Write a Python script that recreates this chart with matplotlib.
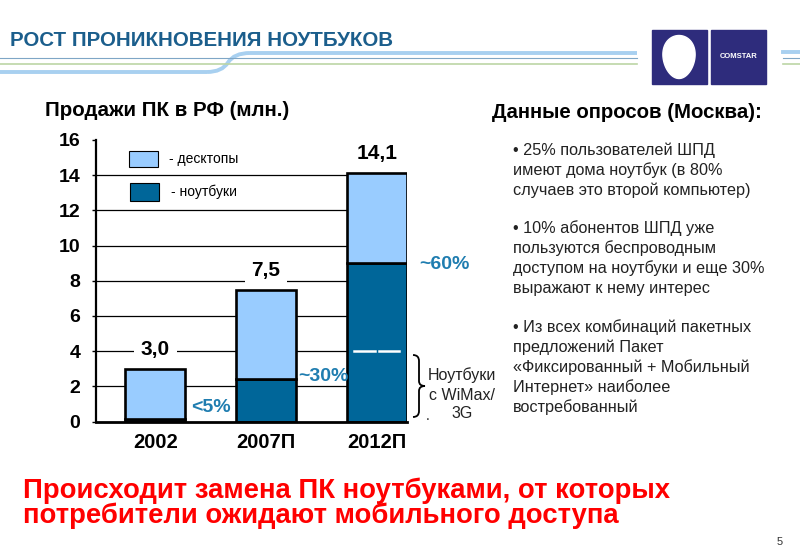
import numpy as np
import matplotlib.pyplot as plt
from matplotlib.patches import Rectangle, PathPatch
from matplotlib.path import Path

plt.rcParams['font.family'] = ['Liberation Sans', 'DejaVu Sans']

# data
years = ['2002', '2007П', '2012П']
totals = [3.0, 7.5, 14.1]
notebooks = [0.15, 2.4, 9.0]
desktops = [t - n for t, n in zip(totals, notebooks)]
pct_labels = ['<5%', '~30%', '~60%']
yticks = list(range(0, 17, 2))

light = '#99CCFF'
dark = '#006699'
pct_color = '#1F7DB0'
W, H = 800, 553

fig = plt.figure(figsize=(8, 5.53), dpi=100)

# overlay in pixel coordinates for slide decorations
ov = fig.add_axes([0, 0, 1, 1])
ov.set_xlim(0, W)
ov.set_ylim(H, 0)
ov.axis('off')

# header stripes
stripe = '#A8D0F0'
ov.plot([0, 207], [72, 72], color=stripe, lw=2.8, solid_capstyle='butt')
bez = Path([(207, 72), (222, 72), (228, 62.5), (234, 53), (250, 53)],
           [Path.MOVETO, Path.CURVE3, Path.CURVE3, Path.CURVE3, Path.CURVE3])
ov.add_patch(PathPatch(bez, fc='none', ec=stripe, lw=2.8))
ov.plot([250, 637], [53, 53], color=stripe, lw=2.8, solid_capstyle='butt')
ov.plot([0, 637], [58, 58], color='#7FA6C6', lw=0.8)
ov.plot([0, 637], [63.5, 63.5], color='#BCD5A6', lw=1.2)
ov.plot([783, 800], [52, 52], color=stripe, lw=2.8)
ov.plot([783, 800], [58, 58], color='#7FA6C6', lw=0.8)
ov.plot([783, 800], [63.5, 63.5], color='#BCD5A6', lw=1.2)

# logo
navy = '#2E2C7C'
ov.add_patch(Rectangle((652, 30), 55, 54, color=navy))
ov.add_patch(Rectangle((711, 30), 55, 54, color=navy))
t = np.linspace(0, 2 * np.pi, 100)
ex = 679 + 16 * np.cos(t) * (1 - 0.12 * np.sin(t))
ey = 57 + 21.5 * np.sin(t)
ov.fill(ex, ey, color='white')
ov.text(738.5, 57, 'COMSTAR', color='white', fontsize=5.5, fontweight='bold',
        ha='center', va='center')

# title
ov.text(10, 40, 'РОСТ ПРОНИКНОВЕНИЯ НОУТБУКОВ', color='#1B5E8C', fontsize=14.8,
        fontweight='bold', ha='left', va='center')

# brace and annotation for WiMax notebooks
brace = Path([(413, 355), (419, 355), (419, 361), (419, 381), (419, 386), (425, 386),
              (419, 386), (419, 391), (419, 411), (419, 417), (413, 417)],
             [Path.MOVETO, Path.CURVE3, Path.CURVE3, Path.LINETO, Path.CURVE3, Path.CURVE3,
              Path.CURVE3, Path.CURVE3, Path.LINETO, Path.CURVE3, Path.CURVE3])
ov.add_patch(PathPatch(brace, fc='none', ec='black', lw=1.3))
for txt, yy in zip(['Ноутбуки', 'с WiMax/', '3G'], [375, 395, 413]):
    ov.text(462, yy, txt, fontsize=11.5, color='#222222', ha='center', va='center')
ov.text(428, 416, '.', fontsize=10, color='#222222', ha='center', va='center')

# chart titles
ov.text(45, 110, 'Продажи ПК в РФ (млн.)', fontsize=14.8, fontweight='bold',
        ha='left', va='center')
ov.text(492, 112, 'Данные опросов (Москва):', fontsize=14.7, fontweight='bold',
        ha='left', va='center')

# survey bullets
bullets = [
    ['• 25% пользователей ШПД', 'имеют дома ноутбук (в 80%', 'случаев это второй компьютер)'],
    ['• 10% абонентов ШПД уже', 'пользуются беспроводным',
     'доступом на ноутбуки и еще 30%', 'выражают к нему интерес'],
    ['• Из всех комбинаций пакетных', 'предложений Пакет',
     '«Фиксированный + Мобильный', 'Интернет» наиболее', 'востребованный'],
]
starts = [150, 228, 327]
for para, y0 in zip(bullets, starts):
    for k, line in enumerate(para):
        ov.text(513, y0 + 20 * k, line, fontsize=11.7, color='#222222',
                ha='left', va='center')

# conclusion
ov.text(23, 498, 'Происходит замена ПК ноутбуками, от которых', color='#FF0000',
        fontsize=19.8, fontweight='bold', ha='left', va='baseline')
ov.text(23, 523, 'потребители ожидают мобильного доступа', color='#FF0000',
        fontsize=19.8, fontweight='bold', ha='left', va='baseline')
ov.text(780, 542, '5', fontsize=8, color='#333333', ha='center', va='center')

# bar chart
ax = fig.add_axes([95.7 / W, 1 - 421.5 / H, (407 - 95.7) / W, (421.5 - 140) / H])
ax.patch.set_visible(False)
x = np.arange(len(years))
bw = 0.54
ax.bar(x, notebooks, bw, color=dark, edgecolor='black', linewidth=1.9, zorder=3)
ax.bar(x, desktops, bw, bottom=notebooks, color=light, edgecolor='black',
       linewidth=1.9, zorder=3)

ax.set_xlim(-0.538, 2.273)
ax.set_ylim(0, 16)
ax.set_yticks(yticks)
ax.set_yticklabels([str(v) for v in yticks], fontsize=14, fontweight='bold')
ax.set_xticks(x)
ax.set_xticklabels(years, fontsize=14.5, fontweight='bold')
ax.tick_params(axis='x', length=0, pad=8)
ax.tick_params(axis='y', direction='out', length=3, width=1, pad=8)
for v in yticks[1:-1]:
    ax.axhline(v, color='black', lw=0.9, zorder=1)
for s in ['top', 'right']:
    ax.spines[s].set_visible(False)
ax.spines['left'].set_linewidth(1.6)
ax.spines['bottom'].set_linewidth(2)
ax.spines['bottom'].set_zorder(4)

# totals
for i, tv in enumerate(totals):
    ax.annotate(f'{tv:.1f}'.replace('.', ','), (x[i], tv), xytext=(0, 14),
                textcoords='offset points', ha='center', va='center',
                fontsize=15, fontweight='bold', zorder=5,
                bbox=dict(fc='white', ec='none', pad=5))

# notebook share labels
pct_pos = [(0.503, 0.82), (1.515, 2.53), (2.607, 8.9)]
for lab, (px, py) in zip(pct_labels, pct_pos):
    ax.text(px, py, lab, color=pct_color, fontsize=14, fontweight='bold',
            ha='center', va='center', zorder=5, clip_on=False)

# white dashes marking the WiMax/3G part
ax.plot([1.79, 1.98], [4, 4], color='white', lw=1.8, zorder=4)
ax.plot([2.02, 2.20], [4, 4], color='white', lw=1.8, zorder=4)

# legend
ax.add_patch(Rectangle((0.107, 0.904), 0.093, 0.057, transform=ax.transAxes,
                       fc=light, ec='black', lw=0.8, zorder=4))
ax.add_patch(Rectangle((0.110, 0.783), 0.093, 0.064, transform=ax.transAxes,
                       fc=dark, ec='black', lw=0.8, zorder=4))
ax.text(0.235, 0.933, '- десктопы', transform=ax.transAxes, fontsize=10,
        ha='left', va='center')
ax.text(0.242, 0.815, '- ноутбуки', transform=ax.transAxes, fontsize=10,
        ha='left', va='center')

fig.savefig('out.png', dpi=100)
